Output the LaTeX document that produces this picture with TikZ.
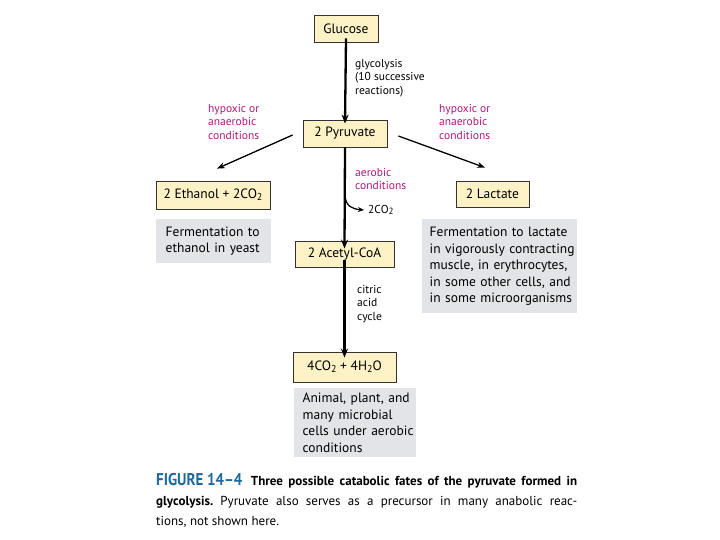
\documentclass[tikz,border=0pt]{standalone}
\usepackage{fontspec}
\setmainfont{PT Sans}
\usetikzlibrary{arrows.meta,calc}
\definecolor{boxfill}{HTML}{FCF2C6}
\definecolor{grayfill}{HTML}{E2E4E8}
\definecolor{magtext}{HTML}{B0187A}
\definecolor{figblue}{HTML}{1C6A9C}
\newcommand{\mysub}[1]{\raisebox{-0.3ex}{\fontsize{10}{10}\selectfont #1}}
\frenchspacing
\begin{document}
\begin{tikzpicture}[x=1pt,y=-1pt,
  compound/.style={draw=black!80,line width=0.8pt,fill=boxfill,inner sep=0pt,font=\fontsize{13.5}{16}\selectfont},
  note/.style={fill=grayfill,anchor=north west,inner sep=0pt,align=left,font=\fontsize{13.5}{16.5}\selectfont},
  lbl/.style={anchor=west,align=left,inner sep=0pt,font=\fontsize{11.5}{13.5}\selectfont},
  mlbl/.style={lbl,text=magtext},
  mainarrow/.style={line width=2.3pt,-{Stealth[length=9pt,width=7pt]}},
  sidearrow/.style={line width=1.3pt,-{Stealth[length=8pt,width=6pt]}},
  co2arrow/.style={line width=1.3pt,-{Stealth[length=6pt,width=5pt]}}]
\useasboundingbox (0,0) rectangle (720,540);
\fill[white] (0,0) rectangle (720,540);

% compound boxes
\node[compound,minimum width=64pt,minimum height=27pt] (glu) at (346,28.5) {Glucose};
\node[compound,minimum width=84pt,minimum height=27pt] (pyr) at (345,133.5) {2 Pyruvate};
\node[compound,minimum width=114pt,minimum height=28pt] (eth) at (213,195) {2 Ethanol + 2CO\mysub{2}};
\node[compound,minimum width=73pt,minimum height=26pt] (lac) at (492.5,194) {2 Lactate};
\node[compound,minimum width=99pt,minimum height=26pt] (acc) at (344.5,254) {2 Acetyl-CoA};
\node[compound,minimum width=103pt,minimum height=30pt] (fin) at (344.5,367) {4CO\mysub{2} + 4H\mysub{2}O};

% gray notes
\node[note,minimum width=115pt,minimum height=44pt,text width=110pt] (neth) at (156,219) {\hspace*{7pt}Fermentation to\\\hspace*{7pt}ethanol in yeast};
\node[note,minimum width=155pt,minimum height=94pt,text width=154pt] (nlac) at (422,219) {\hspace*{7pt}Fermentation to lactate\\\hspace*{7pt}in vigorously contracting\\\hspace*{7pt}muscle, in erythrocytes,\\\hspace*{7pt}in some other cells, and\\\hspace*{7pt}in some microorganisms};
\node[note,minimum width=122pt,minimum height=69pt,text width=121pt] (nfin) at (294,388) {\hspace*{8pt}Animal, plant, and\\\hspace*{8pt}many microbial\\\hspace*{8pt}cells under aerobic\\\hspace*{8pt}conditions};

% labels
\node[lbl] (glyc) at (355,78) {glycolysis\\(10 successive\\reactions)};
\node[mlbl] (hypl) at (208,121.5) {hypoxic or\\anaerobic\\conditions};
\node[mlbl] (hypr) at (439,121.5) {hypoxic or\\anaerobic\\conditions};
\node[mlbl] (aer) at (355,179) {aerobic\\conditions};
\node[lbl] (cit) at (357,304) {citric\\acid\\cycle};
\node[lbl] (co2) at (368,210) {2CO{\raisebox{-0.3ex}{\fontsize{9}{9}\selectfont 2}}};

% connectors
\draw[mainarrow] ([yshift=4pt]glu.south) -- ([yshift=-4pt]pyr.north);
\draw[mainarrow] (pyr.south) -- ([yshift=-8pt]acc.north);
\draw[mainarrow] ([yshift=7pt]acc.south) -- ([yshift=-6pt]fin.north);
\draw[sidearrow] ([shift={(-10,1.5)}]pyr.west) -- ([shift={(4,-12)}]eth.north);
\draw[sidearrow] ([shift={(11,2.5)}]pyr.east) -- ([shift={(-7.5,-13)}]lac.north);
\coordinate (br) at (345,196);
\draw[co2arrow] (br) .. controls (346,206) and (352,209) .. ([xshift=-4pt]co2.west);

% caption
\node[anchor=base west,inner sep=0pt] (cap1) at (156,485) {\makebox[421pt][s]{\textcolor{figblue}{\scalebox{0.88}[1]{\fontsize{17}{17}\selectfont\bfseries FIGURE 14–4}}\hspace{4pt} \fontsize{13}{15}\selectfont\bfseries Three possible catabolic fates of the pyruvate formed in}};
\node[anchor=base west,inner sep=0pt] (cap2) at (156,505) {\fontsize{13}{15}\selectfont\makebox[421pt][s]{\textbf{glycolysis.} Pyruvate also serves as a precursor in many anabolic reac-}};
\node[anchor=base west,inner sep=0pt] (cap3) at (156,525) {\fontsize{13}{15}\selectfont tions, not shown here.};
\end{tikzpicture}
\end{document}
